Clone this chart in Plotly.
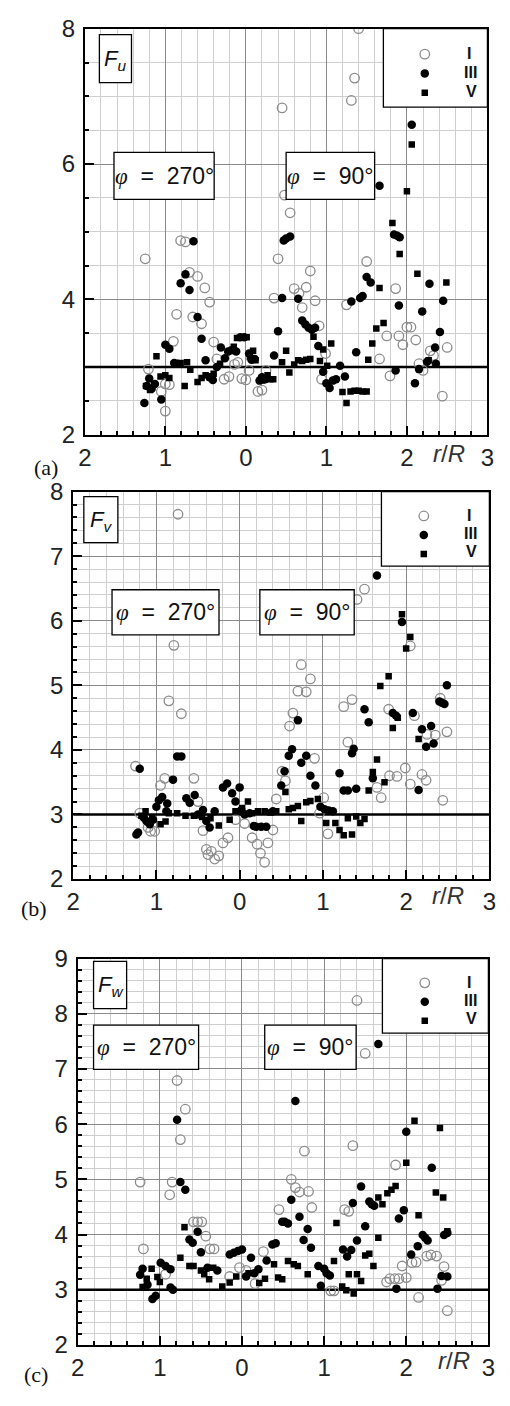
import plotly.graph_objects as go

W, H = 510, 1406

# ---------------- data (r/R: negative = phi 270 side, positive = phi 90 side) ----------------
series_names = ["I", "III", "V"]
tick_vals = [-2, -1, 0, 1, 2, 3]
tick_text = ["2", "1", "0", "1", "2", "3"]

# Panel (a) F_u
a_I_x = [-1.25, -1.21, -1.05, -1.00, -0.95, -0.90, -0.86, -0.81, -0.75, -0.70, -0.66, -0.60, -0.55, -0.51, -0.45,
         -0.40, -0.36, -0.27, -0.21, -0.14, -0.10, -0.05, 0.00, 0.04, 0.15, 0.20, 0.25, 0.35, 0.40, 0.45, 0.48,
         0.55, 0.60, 0.66, 0.70, 0.75, 0.80, 0.86, 0.91, 0.94, 0.99, 1.25, 1.31, 1.35, 1.40, 1.50, 1.66, 1.75,
         1.79, 1.86, 1.90, 1.95, 2.00, 2.05, 2.11, 2.15, 2.20, 2.29, 2.33, 2.44, 2.50, -1.00]
a_I_y = [4.60, 2.97, 2.64, 2.35, 2.74, 3.38, 3.78, 4.87, 4.85, 4.40, 3.74, 4.34, 3.64, 4.17, 3.96,
         3.37, 3.12, 2.82, 2.86, 3.04, 3.07, 2.83, 2.81, 2.95, 2.64, 2.66, 2.95, 4.02, 4.60, 6.83, 5.54,
         5.28, 4.16, 4.09, 3.88, 4.18, 4.42, 3.98, 3.61, 2.82, 3.20, 3.92, 6.94, 7.27, 8.00, 4.56, 3.12, 3.46,
         2.87, 4.16, 3.46, 3.33, 3.59, 3.59, 3.40, 3.05, 2.95, 3.24, 3.17, 2.57, 3.29, 2.75]
a_III_x = [-1.26, -1.23, -1.20, -1.17, -1.13, -1.05, -1.00, -0.95, -0.89, -0.85, -0.81, -0.75, -0.70, -0.65, -0.60,
           -0.55, -0.50, -0.45, -0.41, -0.36, -0.31, -0.26, -0.22, -0.18, -0.12, -0.07, -0.02, 0.04, 0.07, 0.11,
           0.17, 0.20, 0.24, 0.35, 0.40, 0.45, 0.47, 0.50, 0.55, 0.65, 0.70, 0.74, 0.78, 0.82, 0.86, 0.90, 0.96,
           1.00, 1.04, 1.08, 1.12, 1.17, 1.23, 1.31, 1.37, 1.42, 1.45, 1.50, 1.55, 1.66, 1.84, 1.86, 1.88, 1.90,
           1.91, 2.06, 2.10, 2.15, 2.19, 2.25, 2.28, 2.35, 2.36, 2.41, 2.45]
a_III_y = [2.47, 2.72, 2.83, 2.68, 2.75, 2.52, 3.33, 3.27, 3.06, 3.05, 4.24, 4.37, 4.14, 4.86, 3.74,
           3.42, 3.10, 2.85, 2.81, 3.00, 3.29, 3.13, 3.23, 3.25, 3.23, 3.44, 3.44, 3.20, 3.11, 3.12,
           2.80, 2.85, 2.82, 3.17, 3.53, 4.02, 4.87, 4.90, 4.93, 4.01, 3.69, 3.63, 3.58, 3.55, 3.58, 3.31, 2.93,
           2.76, 2.69, 2.80, 2.82, 3.02, 2.86, 3.97, 3.22, 4.02, 4.05, 4.33, 4.25, 5.68, 4.96, 2.95, 4.94, 3.91,
           4.92, 6.58, 2.76, 2.97, 3.82, 3.08, 4.23, 3.29, 3.05, 3.52, 3.98]
a_V_x = [-1.24, -1.19, -1.11, -1.06, -1.00, -0.95, -0.81, -0.76, -0.73, -0.69, -0.60, -0.55, -0.50, -0.45, -0.40,
         -0.32, -0.15, -0.11, 0.01, 0.05, 0.09, 0.12, 0.20, 0.27, 0.30, 0.34, 0.45, 0.50, 0.54, 0.60, 0.65, 0.70,
         0.75, 0.80, 0.84, 0.92, 0.96, 1.01, 1.06, 1.20, 1.25, 1.30, 1.35, 1.40, 1.45, 1.50, 1.52, 1.57, 1.62,
         1.66, 1.71, 1.82, 1.91, 2.00, 2.06, 2.13, 2.27, 2.49]
a_V_y = [2.72, 2.66, 3.16, 2.86, 2.88, 2.84, 3.06, 2.72, 3.07, 2.96, 2.78, 2.84, 2.88, 2.85, 2.90,
         3.05, 3.30, 3.43, 3.44, 3.15, 3.24, 3.10, 2.80, 2.88, 2.82, 2.82, 3.07, 3.24, 2.92, 3.04, 3.10, 3.09,
         3.11, 3.12, 3.45, 3.09, 3.26, 3.02, 3.35, 2.63, 2.47, 2.64, 2.65, 2.65, 2.64, 2.64, 3.11, 3.35, 3.57,
         4.17, 3.65, 5.13, 4.67, 5.60, 6.29, 4.38, 3.10, 4.25]

# Panel (b) F_v
b_I_x = [-1.25, -1.20, -1.10, -1.07, -1.02, -0.95, -0.90, -0.85, -0.79, -0.74, -0.70, -0.55, -0.50, -0.44, -0.40,
         -0.38, -0.34, -0.30, -0.25, -0.20, -0.14, -0.05, 0.06, 0.15, 0.21, 0.25, 0.30, 0.34, 0.40, 0.44, 0.51,
         0.55, 0.60, 0.64, 0.70, 0.74, 0.80, 0.85, 0.90, 0.96, 1.01, 1.06, 1.25, 1.30, 1.35, 1.41, 1.50, 1.65,
         1.70, 1.79, 1.80, 1.89, 1.99, 2.05, 2.05, 2.10, 2.19, 2.24, 2.25, 2.35, 2.41, 2.44, 2.49]
b_I_y = [3.75, 3.02, 2.80, 2.74, 2.74, 3.45, 3.56, 4.76, 5.62, 7.65, 4.56, 3.56, 3.20, 2.75, 2.46,
         2.38, 2.43, 2.31, 2.36, 2.56, 2.64, 2.92, 2.86, 2.64, 2.54, 2.40, 2.26, 2.56, 2.76, 3.24, 3.67,
         3.52, 4.37, 4.57, 4.91, 5.32, 4.90, 5.10, 3.87, 3.02, 3.26, 2.70, 4.67, 4.12, 4.78, 6.33, 6.49, 3.42,
         3.26, 4.63, 3.60, 3.59, 3.72, 3.47, 5.61, 4.53, 3.62, 3.53, 4.24, 4.23, 4.80, 3.22, 4.28]
b_III_x = [-1.24, -1.22, -1.20, -1.15, -1.12, -1.08, -1.04, -1.00, -0.97, -0.93, -0.88, -0.87, -0.80, -0.75, -0.70,
           -0.64, -0.60, -0.54, -0.50, -0.44, -0.40, -0.36, -0.30, -0.20, -0.15, -0.09, -0.05, 0.00, 0.02, 0.06,
           0.12, 0.17, 0.20, 0.26, 0.32, 0.40, 0.50, 0.54, 0.59, 0.63, 0.70, 0.74, 0.80, 0.85, 0.91, 0.97, 1.02,
           1.07, 1.12, 1.20, 1.25, 1.30, 1.35, 1.37, 1.40, 1.50, 1.55, 1.60, 1.65, 1.84, 1.88, 1.95, 2.08, 2.15,
           2.19, 2.24, 2.30, 2.33, 2.40, 2.43, 2.46, 2.49]
b_III_y = [2.69, 2.72, 3.71, 2.95, 2.90, 2.85, 2.92, 3.12, 3.22, 3.27, 3.05, 3.17, 3.54, 3.90, 3.90,
           3.25, 3.18, 3.30, 3.00, 3.07, 2.90, 2.80, 3.05, 3.42, 3.48, 3.33, 3.20, 3.42, 3.07, 3.00,
           3.02, 2.82, 2.81, 2.81, 2.81, 3.05, 3.45, 3.67, 3.91, 4.01, 4.46, 3.80, 3.91, 3.60, 3.45, 3.12, 3.08,
           3.06, 3.05, 3.64, 3.37, 3.37, 3.95, 4.02, 3.40, 4.63, 4.43, 3.56, 6.70, 4.57, 4.53, 5.98, 4.57, 3.38,
           4.32, 4.05, 4.37, 4.10, 4.75, 4.73, 4.71, 5.00]
b_V_x = [-1.18, -1.13, -1.10, -1.05, -0.95, -0.89, -0.85, -0.75, -0.65, -0.55, -0.45, -0.35, -0.25, -0.12, -0.05,
         0.03, 0.10, 0.15, 0.22, 0.30, 0.37, 0.44, 0.55, 0.59, 0.64, 0.70, 0.74, 0.80, 0.85, 0.94, 1.04, 1.15,
         1.20, 1.25, 1.30, 1.35, 1.40, 1.45, 1.50, 1.55, 1.60, 1.65, 1.69, 1.74, 1.79, 1.84, 1.90, 1.95, 2.00,
         2.05, 2.15]
b_V_y = [2.98, 3.05, 2.88, 2.95, 2.85, 2.89, 3.02, 3.02, 2.98, 2.98, 2.96, 2.94, 2.83, 2.92, 3.05,
         3.10, 3.20, 3.02, 3.05, 3.05, 3.03, 3.05, 3.35, 3.08, 3.10, 3.13, 2.90, 3.19, 3.21, 3.24, 2.87, 2.87,
         2.76, 2.68, 2.94, 2.69, 2.97, 2.87, 2.93, 3.37, 3.66, 3.85, 4.99, 3.50, 5.14, 4.34, 4.50, 6.10, 5.57,
         5.75, 4.17]

# Panel (c) F_w
c_I_x = [-1.24, -1.20, -0.93, -0.88, -0.85, -0.79, -0.75, -0.69, -0.59, -0.54, -0.49, -0.44, -0.39, -0.34, -0.15,
         -0.03, 0.05, 0.16, 0.26, 0.45, 0.60, 0.65, 0.70, 0.76, 0.81, 0.85, 1.08, 1.12, 1.25, 1.30, 1.35, 1.40,
         1.50, 1.76, 1.80, 1.86, 1.91, 1.87, 1.95, 2.00, 2.07, 2.12, 2.15, 2.25, 2.30, 2.37, 2.43, 2.46, 2.50]
c_I_y = [4.95, 3.74, 3.28, 4.72, 4.95, 6.79, 5.72, 6.27, 4.23, 4.23, 4.23, 3.97, 3.74, 3.74, 3.24,
         3.40, 3.35, 3.11, 3.69, 4.45, 5.00, 4.85, 4.77, 5.51, 4.78, 4.49, 2.98, 2.98, 4.45, 4.42, 5.61, 8.24,
         7.28, 3.14, 3.20, 3.20, 3.20, 5.26, 3.43, 3.22, 3.49, 3.50, 2.86, 3.61, 3.63, 3.61, 3.17, 3.42, 2.62]
c_III_x = [-1.24, -1.21, -1.15, -1.09, -1.05, -0.99, -0.93, -0.87, -0.87, -0.84, -0.79, -0.75, -0.69, -0.64, -0.60,
           -0.54, -0.50, -0.42, -0.30, -0.15, -0.10, -0.05, 0.00, 0.05, 0.11, 0.15, 0.20, 0.30, 0.37, 0.41, 0.49,
           0.52, 0.56, 0.60, 0.65, 0.70, 0.75, 0.80, 0.84, 0.93, 0.96, 1.00, 1.03, 1.07, 1.23, 1.28, 1.33, 1.35,
           1.40, 1.45, 1.50, 1.55, 1.58, 1.61, 1.66, 1.88, 1.91, 1.97, 2.00, 2.06, 2.14, 2.20, 2.23, 2.26, 2.31,
           2.38, 2.43, 2.46, 2.50, 2.50]
c_III_y = [3.27, 3.38, 3.09, 2.83, 2.89, 3.49, 3.43, 3.37, 3.04, 3.00, 6.08, 4.95, 4.81, 3.91, 3.85,
           4.05, 3.68, 3.40, 3.35, 3.64, 3.67, 3.70, 3.73, 3.24, 3.58, 3.30, 3.37, 3.53, 3.82, 3.84, 4.23,
           4.23, 4.20, 4.63, 6.42, 4.32, 3.90, 4.10, 3.76, 3.43, 3.07, 3.38, 3.30, 3.26, 3.73, 3.60, 3.72, 4.57,
           3.89, 4.87, 4.15, 4.60, 4.55, 4.52, 7.45, 3.02, 4.29, 4.44, 5.86, 3.64, 3.79, 3.99, 3.94, 3.89, 5.21,
           3.02, 3.25, 3.99, 4.03, 3.24]
c_V_x = [-1.21, -1.16, -1.10, -1.03, -1.00, -0.75, -0.70, -0.64, -0.59, -0.50, -0.46, -0.40, -0.35, -0.24, -0.15,
         -0.07, 0.08, 0.21, 0.28, 0.39, 0.44, 0.49, 0.56, 0.63, 0.68, 0.80, 1.12, 1.15, 1.22, 1.27, 1.30, 1.36,
         1.40, 1.45, 1.50, 1.55, 1.60, 1.66, 1.66, 1.71, 1.77, 1.82, 1.87, 2.00, 2.10, 2.15, 2.36, 2.41, 2.45,
         2.50]
c_V_y = [3.05, 3.20, 3.38, 3.23, 3.14, 3.58, 4.13, 3.43, 3.43, 3.35, 3.28, 3.19, 3.40, 3.06, 3.13,
         3.24, 3.30, 3.12, 3.20, 3.46, 3.22, 3.19, 3.52, 3.46, 3.43, 3.28, 3.52, 4.21, 3.06, 2.99, 3.28, 2.93,
         3.28, 3.16, 3.62, 3.65, 3.43, 3.94, 4.67, 4.55, 4.75, 4.81, 4.88, 5.30, 6.06, 4.35, 4.76, 5.93, 4.67,
         4.06]

# ---------------- styling ----------------
FONT = "Liberation Sans, Arial, sans-serif"
SERIF = "Liberation Serif, Times New Roman, serif"

def fx(p):
    return p / W

def fy(p):
    return 1 - p / H

marker_styles = [
    dict(symbol="circle-open", size=9.5, color="#8c8c8c", line=dict(width=1.3, color="#8c8c8c")),
    dict(symbol="circle", size=8.5, color="#000000"),
    dict(symbol="square", size=6.5, color="#000000"),
]

panels = [
    dict(sfx="", leg="legend",
         data=[(a_I_x, a_I_y), (a_III_x, a_III_y), (a_V_x, a_V_y)],
         box=(80, 15, 494, 429), yr=(2, 8), ydt=2, ymin=0.5,
         fbox=(95, 21, 128, 70), flabel="u",
         p270=(110, 141, 213, 189), p90=(287, 141, 378, 189),
         lbox=(387, 15, 494, 95), lmark=(429, 40), lstep=19.5, ltext=[475, 477, 478],
         tag="(a)", tagpos=(40, 462), rr=(454, 448)),
    dict(sfx="2", leg="legend2",
         data=[(b_I_x, b_I_y), (b_III_x, b_III_y), (b_V_x, b_V_y)],
         box=(68, 487, 496, 882), yr=(2, 8), ydt=1, ymin=0.2,
         fbox=(79, 492, 114, 539), flabel="v",
         p270=(108, 587, 218, 633), p90=(260, 587, 357, 633),
         lbox=(385, 487, 496, 563), lmark=(428, 511), lstep=18.5, ltext=[475, 477, 478],
         tag="(b)", tagpos=(28, 912), rr=(453, 899)),
    dict(sfx="3", leg="legend3",
         data=[(c_I_x, c_I_y), (c_III_x, c_III_y), (c_V_x, c_V_y)],
         box=(72.7, 963, 495, 1357), yr=(2, 9), ydt=1, ymin=0.2,
         fbox=(89, 966, 123, 1014), flabel="w",
         p270=(89, 1031, 197, 1076), p90=(265, 1031, 359, 1076),
         lbox=(386, 963, 495, 1039), lmark=(429, 987), lstep=18.5, ltext=[475, 477, 478],
         tag="(c)", tagpos=(30, 1387), rr=(460, 1373)),
]

fig = go.Figure()
shapes = []
annotations = []
layout_axes = {}

for p in panels:
    sfx = p["sfx"]
    xa, ya = "x" + sfx, "y" + sfx
    for (xs, ys), name, ms in zip(p["data"], series_names, marker_styles):
        fig.add_trace(go.Scatter(
            x=xs, y=ys, mode="markers", name=name,
            marker=ms, xaxis=xa, yaxis=ya, legend=p["leg"], showlegend=True,
        ))
    x0, y0, x1, y1 = p["box"]
    common = dict(showline=True, mirror=True, linecolor="black", linewidth=2,
                  ticks="inside", ticklen=9, tickwidth=1.5, tickcolor="black",
                  showgrid=True, gridcolor="#8a8a8a", gridwidth=1, zeroline=False,
                  tickfont=dict(family=FONT, size=24, color="#222222"))
    layout_axes["xaxis" + sfx] = dict(
        common, domain=[fx(x0), fx(x1)], anchor=ya, range=[-2, 3],
        tickmode="array", tickvals=tick_vals, ticktext=tick_text,
        minor=dict(dtick=0.2, showgrid=True, gridcolor="#cfcfcf", gridwidth=1,
                   ticks="inside", ticklen=4, tickcolor="black"))
    layout_axes["yaxis" + sfx] = dict(
        common, domain=[fy(y1), fy(y0)], anchor=xa, range=list(p["yr"]),
        tick0=2, dtick=p["ydt"], ticklabelstandoff=3,
        minor=dict(dtick=p["ymin"], showgrid=True, gridcolor="#cfcfcf", gridwidth=1,
                   ticks="inside", ticklen=4, tickcolor="black"))
    # thick reference line at 3
    shapes.append(dict(type="line", xref=xa, yref=ya, x0=-2, x1=3, y0=3, y1=3,
                       line=dict(color="black", width=2.5), layer="between"))
    # boxes
    for key in ("fbox", "p270", "p90", "lbox"):
        bx0, by0, bx1, by1 = p[key]
        shapes.append(dict(type="rect", xref="paper", yref="paper",
                           x0=fx(bx0), x1=fx(bx1), y0=fy(by1), y1=fy(by0),
                           fillcolor="white", line=dict(color="black", width=1.3), layer="above"))
    bx0, by0, bx1, by1 = p["fbox"]
    annotations.append(dict(xref="paper", yref="paper", x=fx((bx0 + bx1) / 2), y=fy((by0 + by1) / 2 + 1),
                            text="<i>F</i><sub><i>%s</i></sub>" % p["flabel"], showarrow=False,
                            font=dict(family=FONT, size=22, color="#111"), xanchor="center", yanchor="middle"))
    for key, deg in (("p270", "270°"), ("p90", "90°")):
        bx0, by0, bx1, by1 = p[key]
        annotations.append(dict(xref="paper", yref="paper", x=fx((bx0 + bx1) / 2), y=fy((by0 + by1) / 2),
                                text="<span style=\"font-family:'Liberation Serif'\"><i>φ</i></span>\u00a0\u00a0=\u00a0\u00a0" + deg,
                                showarrow=False, font=dict(family=FONT, size=23, color="#111"),
                                xanchor="center", yanchor="middle"))
    tx, ty = p["tag"], p["tagpos"]
    annotations.append(dict(xref="paper", yref="paper", x=fx(ty[0]), y=fy(ty[1]), text=tx, showarrow=False,
                            font=dict(family=SERIF, size=22, color="#111"), xanchor="center", yanchor="middle"))
    rx, ry = p["rr"]
    annotations.append(dict(xref="paper", yref="paper", x=fx(rx), y=fy(ry), text="<i>r</i>/<i>R</i>",
                            showarrow=False, font=dict(family=FONT, size=24, color="#333"),
                            xanchor="center", yanchor="middle"))
    # legend labels (drawn as text so the entry spacing can follow the reference)
    mx, my = p["lmark"]
    for i, (name, tx_) in enumerate(zip(series_names, p["ltext"])):
        annotations.append(dict(xref="paper", yref="paper", x=fx(tx_), y=fy(my + i * p["lstep"]),
                                text="<b>%s</b>" % name, showarrow=False,
                                font=dict(family=FONT, size=16, color="#111"),
                                xanchor="center", yanchor="middle"))
    fsz = 12.5 if p["lstep"] > 19 else 12
    layout_axes[p["leg"]] = dict(x=fx(mx - 20), y=fy(my - 14), xanchor="left", yanchor="top",
                                 bgcolor="rgba(0,0,0,0)", borderwidth=0,
                                 font=dict(family=FONT, size=fsz, color="rgba(0,0,0,0)"),
                                 itemsizing="trace")

fig.update_layout(
    width=W, height=H, margin=dict(l=0, r=0, t=0, b=0),
    paper_bgcolor="white", plot_bgcolor="white",
    shapes=shapes, annotations=annotations, **layout_axes,
)

fig.write_html("out.html", config={"displayModeBar": False},
               post_script="document.body.style.margin='0px';")
